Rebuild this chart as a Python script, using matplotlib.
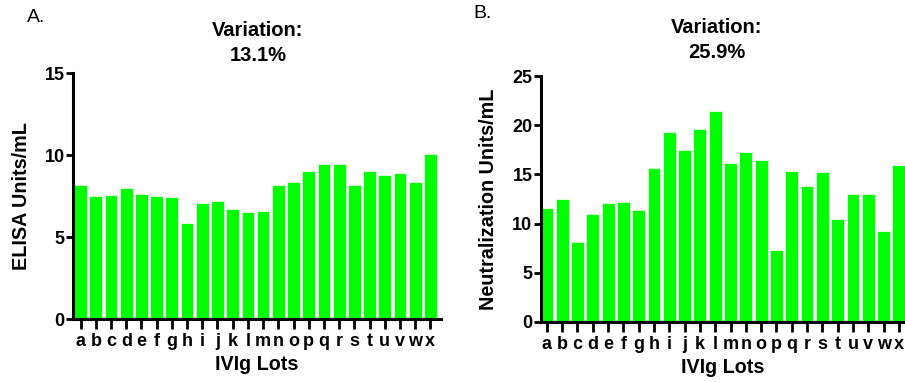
import numpy as np
import matplotlib
matplotlib.use("Agg")
import matplotlib.pyplot as plt

plt.rcParams['font.family'] = ['Liberation Sans', 'DejaVu Sans']

# --- data ---
lots = list("abcdefghijklmnopqrstuvwx")
elisa = [8.17, 7.52, 7.56, 7.99, 7.60, 7.50, 7.46, 5.85, 7.07, 7.22, 6.71, 6.50,
         6.57, 8.17, 8.33, 9.00, 9.45, 9.45, 8.17, 9.00, 8.80, 8.92, 8.37, 10.04]
neut = [11.62, 12.47, 8.08, 10.97, 12.13, 12.19, 11.41, 15.66, 19.33, 17.46, 19.60, 21.47,
        16.13, 17.26, 16.47, 7.27, 15.39, 13.86, 15.29, 10.43, 13.04, 12.98, 9.21, 15.93]
variation = ["13.1%", "25.9%"]
panels = ["A.", "B."]
ylabels = ["ELISA Units/mL", "Neutralization Units/mL"]
ymax = [15, 25]

green = "#00ff00"

fig = plt.figure(figsize=(9.05, 3.82), dpi=100)
ax1 = fig.add_axes([0.0807, 0.1649, 0.4066, 0.644])
ax2 = fig.add_axes([0.5975, 0.158, 0.4025, 0.642])

x = np.arange(len(lots))
for ax, vals, yl, top, xl in [(ax1, elisa, ylabels[0], ymax[0], (-0.5, 23.7)),
                              (ax2, neut, ylabels[1], ymax[1], (-0.4, 23.4))]:
    ax.bar(x, vals, width=0.84, color=green, edgecolor="white", linewidth=0.5)
    ax.set_xlim(*xl)
    ax.set_ylim(0, top)
    ax.set_yticks(np.arange(0, top + 1, 5))
    ax.set_xticks(x)
    ax.set_xticklabels(lots)
    for s in ["top", "right"]:
        ax.spines[s].set_visible(False)
    for s in ["left", "bottom"]:
        ax.spines[s].set_linewidth(2.2)
    ax.tick_params(axis="x", length=7, width=2, pad=3)
    ax.tick_params(axis="y", length=5, width=2, pad=1)
    for lab in ax.get_xticklabels() + ax.get_yticklabels():
        lab.set_fontsize(13)
        lab.set_fontweight("bold")
    ax.set_ylabel(yl, fontsize=14.2, fontweight="bold", labelpad=10)
    ax.set_xlabel("IVIg Lots", fontsize=14.2, fontweight="bold", labelpad=4)

fig.text(258 / 905, 1 - 43 / 382, "Variation:\n" + variation[0], ha="center", va="center",
         fontsize=14.5, fontweight="bold", linespacing=1.35)
fig.text(717 / 905, 1 - 40 / 382, "Variation:\n" + variation[1], ha="center", va="center",
         fontsize=14.5, fontweight="bold", linespacing=1.35)
fig.text(27 / 905, 1 - 18 / 382, panels[0], ha="left", va="center", fontsize=14)
fig.text(473 / 905, 1 - 14 / 382, panels[1], ha="left", va="center", fontsize=14)

fig.savefig("out.png", dpi=100)
